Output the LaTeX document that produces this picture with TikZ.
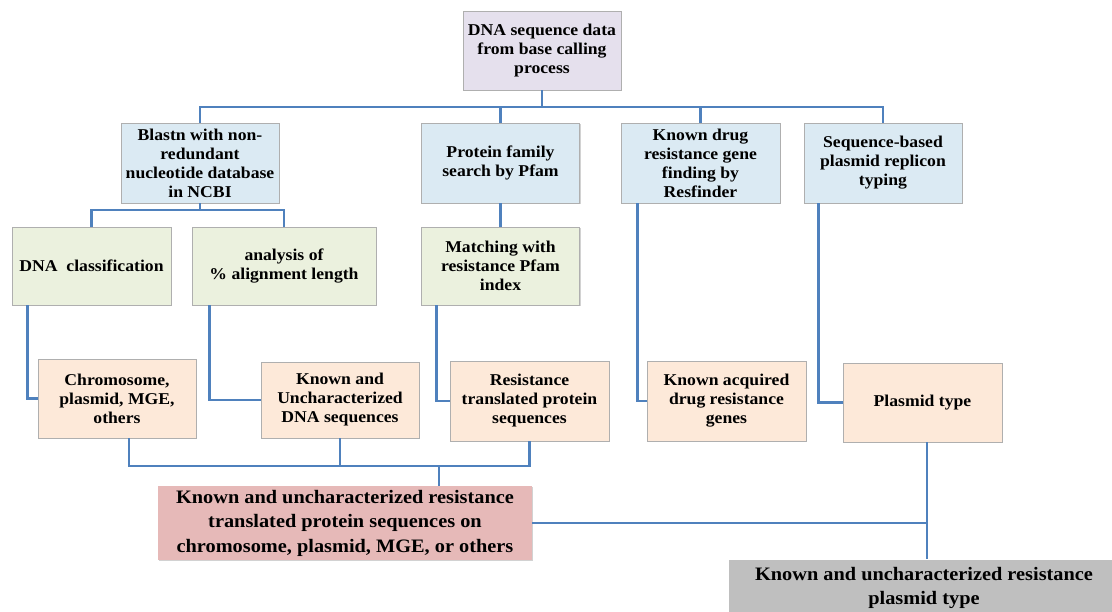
\documentclass[tikz,border=0pt]{standalone}
\usepackage{fontspec}
\setmainfont{Liberation Serif}[FakeStretch=1.07]
\usetikzlibrary{shadows}
\definecolor{cpurple}{RGB}{229,224,237}
\definecolor{cblue}{RGB}{219,234,243}
\definecolor{cgreen}{RGB}{235,241,222}
\definecolor{corange}{RGB}{253,233,217}
\definecolor{cred}{RGB}{230,185,184}
\definecolor{cgray}{RGB}{191,191,191}
\definecolor{cline}{RGB}{79,129,189}
\definecolor{boxborder}{RGB}{175,175,175}
\tikzset{
  basebox/.style={draw=boxborder, line width=0.6pt, align=center, inner sep=2pt,
    font=\bfseries\fontsize{16.5}{19}\selectfont,
    drop shadow={shadow xshift=1.3pt, shadow yshift=-1.3pt, opacity=0.35}},
  purplebox/.style={basebox, fill=cpurple},
  bluebox/.style={basebox, fill=cblue},
  greenbox/.style={basebox, fill=cgreen},
  orangebox/.style={basebox, fill=corange},
  bigbox/.style={basebox, draw=none, font=\bfseries\fontsize{19}{24.5}\selectfont},
  conn/.style={draw=cline, line width=2.8pt}
}
\begin{document}
\begin{tikzpicture}[x=1pt,y=-1pt]
\useasboundingbox (0,0) rectangle (1112,612);
\clip (0,0) rectangle (1112,612);
\fill[white] (0,0) rectangle (1112,612);

% level 0
\node[purplebox, minimum width=158pt, minimum height=79pt] (top) at (542,50.5)
  {DNA sequence data\\from base calling\\process};

% level 1
\node[bluebox, minimum width=158pt, minimum height=80pt] (blastn) at (200,163)
  {Blastn with non-\\redundant\\nucleotide database\\in NCBI};
\node[bluebox, minimum width=158pt, minimum height=80pt] (pfam) at (500.5,163)
  {Protein family\\search by Pfam};
\node[bluebox, minimum width=159pt, minimum height=80pt] (resf) at (700.5,163)
  {Known drug\\resistance gene\\finding by\\Resfinder};
\node[bluebox, minimum width=158pt, minimum height=80pt] (seqb) at (883,163)
  {Sequence-based\\plasmid replicon\\typing};

% level 2
\node[greenbox, minimum width=159pt, minimum height=78pt] (dnaclass) at (91.5,266)
  {DNA\ \ classification};
\node[greenbox, minimum width=184pt, minimum height=78pt] (align) at (284,266)
  {analysis of\\\% alignment length};
\node[greenbox, minimum width=158pt, minimum height=78pt] (match) at (500.5,266)
  {Matching with\\resistance Pfam\\index};

% level 3
\node[orangebox, minimum width=158pt, minimum height=79pt] (chrom) at (117,398.5)
  {Chromosome,\\plasmid, MGE,\\others};
\node[orangebox, minimum width=158pt, minimum height=76pt] (known) at (340,400)
  {Known and\\Uncharacterized\\DNA sequences};
\node[orangebox, minimum width=159pt, minimum height=80pt] (resist) at (529.5,401)
  {Resistance\\translated protein\\sequences};
\node[orangebox, minimum width=159pt, minimum height=80pt] (acq) at (726.5,401)
  {Known acquired\\drug resistance\\genes};
\node[orangebox, minimum width=159pt, minimum height=79pt] (ptype) at (922.5,402.5)
  {Plasmid type};

% results
\node[bigbox, fill=cred, minimum width=374pt, minimum height=74pt] (red) at (345,523)
  {Known and uncharacterized resistance\\translated protein sequences on\\chromosome, plasmid, MGE, or others};
\node[bigbox, fill=cgray, minimum width=390pt, minimum height=57pt] (gray) at (924,588)
  {Known and uncharacterized resistance\\plasmid type};

% connectors
\coordinate (bus1) at (0,107);
\draw[conn] (top.south) -- (top.south |- bus1);
\draw[conn] (blastn.north) |- (seqb.north |- bus1) -- (seqb.north);
\draw[conn] (pfam.north) -- (pfam.north |- bus1);
\draw[conn] (resf.north) -- (resf.north |- bus1);

\coordinate (bus2) at (0,210);
\draw[conn] (blastn.south) -- (blastn.south |- bus2);
\draw[conn] (dnaclass.north) |- (align.north |- bus2) -- (align.north);
\draw[conn] (pfam.south) -- (match.north);

\draw[conn] ([xshift=15.5pt]dnaclass.south west) |- (chrom.west);
\draw[conn] ([xshift=18pt]align.south west) |- (known.west);
\draw[conn] ([xshift=15pt]match.south west) |- (resist.west);
\draw[conn] ([xshift=16.5pt]resf.south west) |- (acq.west);
\draw[conn] ([xshift=14.6pt]seqb.south west) |- (ptype.west);

\coordinate (bus3) at (0,466);
\coordinate (rj) at (439,466);
\draw[conn] ([xshift=12pt]chrom.south) |- (resist.south |- bus3) -- (resist.south);
\draw[conn] (known.south) -- (known.south |- bus3);
\draw[conn] (rj) -- (rj |- red.north);

\coordinate (pj) at ([xshift=4.5pt]ptype.south);
\draw[conn] (pj) -- (pj |- gray.north);
\draw[conn] (red.east) -- (red.east -| pj);
\end{tikzpicture}
\end{document}
